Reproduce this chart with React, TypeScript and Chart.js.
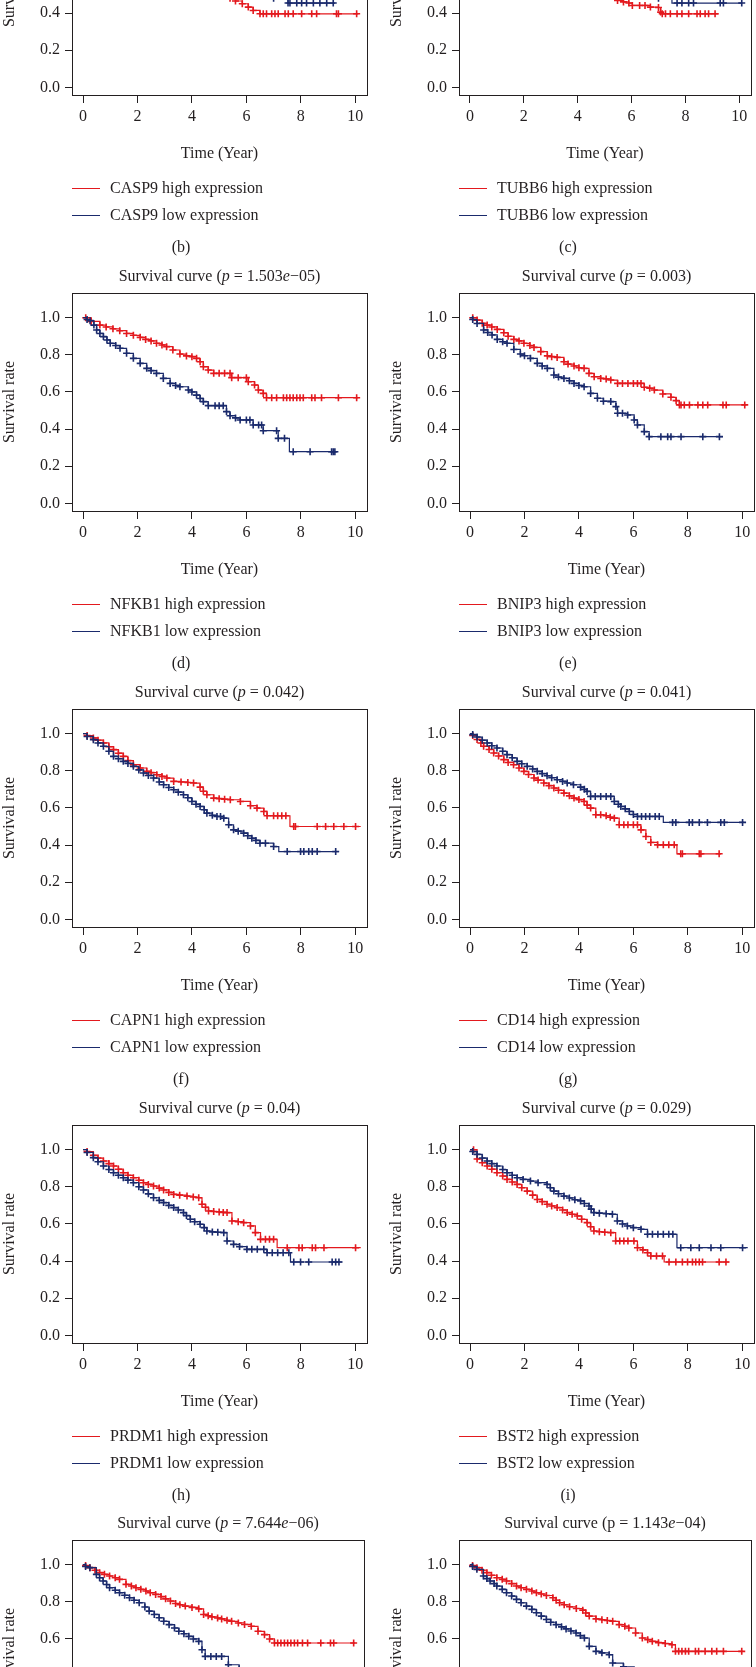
import React, { useEffect, useRef } from 'react';
import { Chart, registerables } from 'chart.js';
Chart.register(...registerables);

type Pt = [number, number, number]; // [time (year), survival, censor mark 0/1]
type Seg = [string, number]; // [text, italic 0/1]

const RED = '#e3191e';
const BLUE = '#1a2a6c';
const INK = '#231f20';
const FONT = '"Liberation Serif", "Times New Roman", serif';

const xTicks = [0, 2, 4, 6, 8, 10];
const yTicks = [0, 0.2, 0.4, 0.6, 0.8, 1.0];

// ---------- (b) CASP9 ----------
const bHigh: Pt[] = [[0,1,0],[0.5,0.95,1],[1.0,0.9,1],[1.5,0.86,1],[2.0,0.82,1],[2.5,0.78,1],[3.0,0.74,1],[3.5,0.69,1],[4.0,0.64,1],[4.5,0.58,1],[5.0,0.52,1],[5.4,0.48,1],[5.6,0.465,1],[5.85,0.45,1],[6.07,0.432,1],[6.25,0.414,1],[6.5,0.396,1],[6.62,0.396,1],[6.74,0.396,1],[6.93,0.396,1],[7.05,0.396,1],[7.17,0.396,1],[7.42,0.396,1],[7.54,0.396,1],[7.72,0.396,1],[8.03,0.396,1],[8.4,0.396,1],[8.58,0.396,1],[9.31,0.396,1],[9.38,0.396,1],[10.05,0.396,1],[10.11,0.396,0]];
const bLow: Pt[] = [[0,1,0],[0.5,0.96,1],[1.0,0.92,1],[1.5,0.88,1],[2.0,0.84,1],[2.5,0.8,1],[3.0,0.77,1],[3.5,0.73,1],[4.0,0.69,1],[4.5,0.64,1],[5.0,0.6,1],[5.5,0.56,1],[6.0,0.53,1],[6.5,0.5,1],[7.0,0.48,1],[7.53,0.454,1],[7.6,0.454,1],[7.85,0.454,1],[8.03,0.454,1],[8.21,0.454,1],[8.46,0.454,1],[8.7,0.454,1],[8.95,0.454,1],[9.19,0.454,1],[9.25,0.454,0]];

// ---------- (c) TUBB6 ----------
const cHigh: Pt[] = [[0,1,0],[0.5,0.95,1],[1.0,0.9,1],[1.5,0.86,1],[2.0,0.82,1],[2.5,0.78,1],[3.0,0.74,1],[3.5,0.69,1],[4.0,0.64,1],[4.5,0.58,1],[5.0,0.52,1],[5.48,0.468,1],[5.7,0.46,1],[5.9,0.454,1],[6.03,0.441,1],[6.3,0.441,1],[6.5,0.441,1],[6.7,0.432,1],[7.0,0.43,1],[7.08,0.405,1],[7.14,0.396,1],[7.26,0.396,1],[7.44,0.396,1],[7.69,0.396,1],[7.87,0.396,1],[8.12,0.396,1],[8.43,0.396,1],[8.55,0.396,1],[8.73,0.396,1],[8.86,0.396,1],[9.1,0.396,1],[9.23,0.396,0]];
const cLow: Pt[] = [[0,1,0],[0.5,0.96,1],[1.0,0.92,1],[1.5,0.88,1],[2.0,0.84,1],[2.5,0.8,1],[3.0,0.77,1],[3.5,0.73,1],[4.0,0.69,1],[4.5,0.64,1],[5.0,0.6,1],[5.5,0.56,1],[6.0,0.53,1],[6.5,0.5,1],[7.0,0.48,1],[7.5,0.454,0],[7.69,0.454,1],[7.87,0.454,1],[8.12,0.454,1],[8.3,0.454,1],[9.29,0.454,1],[9.41,0.454,1],[10.09,0.454,1]];

// ---------- (d) NFKB1 ----------
const dHigh: Pt[] = [[0,1,0],[0.1,1,1],[0.3,0.98,1],[0.62,0.96,1],[0.85,0.95,1],[1.1,0.94,1],[1.35,0.93,1],[1.6,0.915,1],[1.85,0.905,1],[2.1,0.894,1],[2.3,0.883,1],[2.5,0.875,1],[2.7,0.862,1],[2.9,0.853,1],[3.07,0.844,1],[3.3,0.826,1],[3.56,0.804,1],[3.8,0.794,1],[4.0,0.79,1],[4.17,0.781,1],[4.3,0.763,1],[4.42,0.736,1],[4.6,0.718,1],[4.8,0.7,1],[5.0,0.7,1],[5.2,0.7,1],[5.4,0.7,1],[5.46,0.677,1],[5.7,0.677,1],[6.0,0.677,1],[6.07,0.655,1],[6.3,0.637,1],[6.44,0.61,1],[6.62,0.592,1],[6.74,0.569,1],[6.93,0.569,1],[7.11,0.569,1],[7.36,0.569,1],[7.48,0.569,1],[7.6,0.569,1],[7.72,0.569,1],[7.85,0.569,1],[7.97,0.569,1],[8.09,0.569,1],[8.4,0.569,1],[8.52,0.569,1],[8.76,0.569,1],[9.38,0.569,1],[10.05,0.569,1],[10.11,0.569,0]];
const dLow: Pt[] = [[0,1,0],[0.15,0.99,1],[0.26,0.984,1],[0.4,0.96,1],[0.5,0.934,1],[0.62,0.915,1],[0.75,0.898,1],[0.88,0.88,1],[1.0,0.862,1],[1.2,0.85,1],[1.36,0.835,1],[1.6,0.808,1],[1.85,0.781,1],[2.1,0.754,1],[2.34,0.727,1],[2.5,0.715,1],[2.7,0.7,1],[2.95,0.673,1],[3.2,0.646,1],[3.4,0.635,1],[3.56,0.628,1],[3.87,0.61,1],[4.0,0.6,1],[4.17,0.583,1],[4.3,0.565,1],[4.42,0.548,1],[4.6,0.526,1],[4.85,0.526,1],[5.0,0.526,1],[5.15,0.526,1],[5.27,0.494,1],[5.4,0.472,1],[5.6,0.46,1],[5.77,0.449,1],[6.0,0.449,1],[6.13,0.449,1],[6.25,0.422,1],[6.45,0.422,1],[6.56,0.422,1],[6.62,0.391,1],[7.11,0.391,1],[7.17,0.35,1],[7.4,0.35,1],[7.54,0.35,0],[7.58,0.278,0],[7.72,0.278,1],[8.34,0.278,1],[9.13,0.278,1],[9.19,0.278,1],[9.25,0.278,1],[9.34,0.278,0]];

// ---------- (e) BNIP3 ----------
const eHigh: Pt[] = [[0,1,0],[0.1,1,1],[0.26,0.987,1],[0.45,0.97,1],[0.63,0.96,1],[0.8,0.95,1],[1.0,0.937,1],[1.24,0.919,1],[1.4,0.9,1],[1.61,0.883,1],[1.8,0.875,1],[1.98,0.862,1],[2.2,0.85,1],[2.35,0.84,1],[2.6,0.817,1],[2.84,0.794,1],[3.0,0.79,1],[3.2,0.786,1],[3.45,0.763,1],[3.6,0.75,1],[3.82,0.74,1],[4.0,0.73,1],[4.19,0.727,1],[4.37,0.7,1],[4.56,0.682,1],[4.8,0.673,1],[5.0,0.67,1],[5.17,0.664,1],[5.42,0.646,1],[5.6,0.646,1],[5.8,0.646,1],[6.0,0.646,1],[6.15,0.646,1],[6.28,0.646,1],[6.4,0.625,1],[6.6,0.62,1],[6.77,0.61,1],[7.08,0.589,1],[7.38,0.571,1],[7.57,0.553,1],[7.69,0.53,1],[7.75,0.53,1],[7.87,0.53,1],[8.06,0.53,1],[8.37,0.53,1],[8.55,0.53,1],[8.73,0.53,1],[9.29,0.53,1],[9.41,0.53,1],[10.09,0.53,1],[10.15,0.53,0]];
const eLow: Pt[] = [[0,1,0],[0.1,0.99,1],[0.26,0.969,1],[0.5,0.934,1],[0.65,0.92,1],[0.81,0.907,1],[1.0,0.883,1],[1.2,0.87,1],[1.36,0.862,1],[1.61,0.829,1],[1.85,0.804,1],[2.0,0.795,1],[2.22,0.781,1],[2.47,0.754,1],[2.65,0.74,1],[2.84,0.727,1],[3.08,0.691,1],[3.25,0.68,1],[3.45,0.673,1],[3.65,0.66,1],[3.82,0.646,1],[4.0,0.635,1],[4.19,0.628,1],[4.43,0.592,1],[4.68,0.566,1],[4.9,0.55,1],[5.17,0.548,1],[5.36,0.521,1],[5.42,0.485,1],[5.6,0.485,1],[5.79,0.476,1],[6.03,0.449,1],[6.15,0.422,1],[6.4,0.386,1],[6.58,0.359,1],[7.01,0.359,1],[7.26,0.359,1],[7.38,0.359,1],[7.75,0.359,1],[8.55,0.359,1],[9.16,0.359,1],[9.29,0.359,0]];

// ---------- (f) CAPN1 ----------
const fHigh: Pt[] = [[0,1,0],[0.15,0.99,1],[0.38,0.977,1],[0.55,0.965,1],[0.75,0.95,1],[0.95,0.93,1],[1.12,0.914,1],[1.3,0.895,1],[1.48,0.878,1],[1.65,0.855,1],[1.85,0.833,1],[2.1,0.815,1],[2.34,0.797,1],[2.5,0.79,1],[2.71,0.779,1],[2.9,0.77,1],[3.08,0.761,1],[3.33,0.743,1],[3.6,0.74,1],[3.85,0.737,1],[4.06,0.734,1],[4.3,0.712,1],[4.42,0.69,1],[4.55,0.671,1],[4.8,0.653,1],[5.0,0.65,1],[5.2,0.647,1],[5.41,0.644,1],[5.78,0.635,1],[6.15,0.612,1],[6.39,0.599,1],[6.64,0.581,1],[6.76,0.558,1],[7.0,0.558,1],[7.15,0.558,1],[7.3,0.558,1],[7.45,0.558,1],[7.6,0.5,0],[7.74,0.5,1],[7.8,0.5,1],[8.6,0.5,1],[8.91,0.5,1],[9.21,0.5,1],[9.58,0.5,1],[10.01,0.5,1],[10.2,0.5,0]];
const fLow: Pt[] = [[0,1,0],[0.15,0.985,1],[0.38,0.968,1],[0.55,0.95,1],[0.75,0.932,1],[0.95,0.905,1],[1.12,0.878,1],[1.3,0.865,1],[1.48,0.851,1],[1.65,0.84,1],[1.85,0.824,1],[2.05,0.805,1],[2.22,0.788,1],[2.4,0.775,1],[2.59,0.761,1],[2.8,0.74,1],[2.96,0.725,1],[3.15,0.71,1],[3.33,0.698,1],[3.5,0.685,1],[3.69,0.671,1],[3.85,0.655,1],[4.0,0.635,1],[4.15,0.62,1],[4.3,0.608,1],[4.45,0.59,1],[4.55,0.572,1],[4.75,0.56,1],[4.92,0.554,1],[5.05,0.554,1],[5.17,0.545,1],[5.35,0.509,1],[5.53,0.482,1],[5.7,0.475,1],[5.9,0.464,1],[6.05,0.45,1],[6.2,0.437,1],[6.35,0.425,1],[6.5,0.41,1],[6.7,0.41,1],[7.0,0.392,1],[7.19,0.365,0],[7.5,0.365,1],[7.99,0.365,1],[8.11,0.365,1],[8.29,0.365,1],[8.42,0.365,1],[8.6,0.365,1],[9.28,0.365,1],[9.4,0.365,0]];

// ---------- (g) CD14 ----------
const gHigh: Pt[] = [[0,1,0],[0.1,0.99,1],[0.26,0.969,1],[0.4,0.95,1],[0.5,0.932,1],[0.7,0.915,1],[0.87,0.896,1],[1.05,0.88,1],[1.24,0.86,1],[1.4,0.845,1],[1.6,0.833,1],[1.8,0.815,1],[1.98,0.797,1],[2.15,0.78,1],[2.35,0.761,1],[2.5,0.75,1],[2.71,0.734,1],[2.9,0.72,1],[3.08,0.707,1],[3.25,0.695,1],[3.45,0.68,1],[3.65,0.665,1],[3.82,0.653,1],[4.0,0.645,1],[4.19,0.635,1],[4.3,0.615,1],[4.43,0.599,1],[4.62,0.563,1],[4.8,0.563,1],[5.0,0.558,1],[5.15,0.55,1],[5.3,0.545,1],[5.48,0.509,1],[5.65,0.509,1],[5.8,0.509,1],[6.0,0.509,1],[6.15,0.509,1],[6.28,0.482,1],[6.46,0.446,1],[6.64,0.414,1],[6.89,0.401,1],[7.1,0.401,1],[7.3,0.401,1],[7.5,0.401,1],[7.6,0.353,0],[7.74,0.353,1],[7.8,0.353,1],[8.42,0.353,1],[8.48,0.353,1],[9.15,0.353,1],[9.22,0.353,0]];
const gLow: Pt[] = [[0,1,0],[0.1,0.995,1],[0.26,0.982,1],[0.45,0.965,1],[0.63,0.95,1],[0.8,0.935,1],[0.99,0.923,1],[1.2,0.905,1],[1.36,0.887,1],[1.55,0.87,1],[1.73,0.851,1],[1.9,0.838,1],[2.1,0.824,1],[2.3,0.81,1],[2.47,0.797,1],[2.65,0.785,1],[2.83,0.773,1],[3.0,0.763,1],[3.2,0.752,1],[3.4,0.743,1],[3.57,0.734,1],[3.8,0.725,1],[4.06,0.712,1],[4.2,0.7,1],[4.3,0.689,1],[4.43,0.662,1],[4.6,0.662,1],[4.8,0.662,1],[5.0,0.662,1],[5.17,0.662,1],[5.3,0.635,1],[5.45,0.62,1],[5.54,0.608,1],[5.7,0.595,1],[5.85,0.581,1],[6.0,0.565,1],[6.15,0.554,1],[6.3,0.554,1],[6.45,0.554,1],[6.6,0.554,1],[6.8,0.554,1],[6.95,0.554,1],[7.1,0.522,0],[7.44,0.522,1],[7.56,0.522,1],[8.05,0.522,1],[8.17,0.522,1],[8.42,0.522,1],[8.72,0.522,1],[9.21,0.522,1],[9.34,0.522,1],[10.01,0.522,1],[10.07,0.522,0]];

// ---------- (h) PRDM1 ----------
const hHigh: Pt[] = [[0,1,0],[0.15,0.99,1],[0.38,0.97,1],[0.55,0.955,1],[0.75,0.939,1],[0.95,0.925,1],[1.12,0.912,1],[1.3,0.895,1],[1.48,0.876,1],[1.65,0.862,1],[1.85,0.849,1],[2.05,0.835,1],[2.22,0.822,1],[2.4,0.813,1],[2.59,0.804,1],[2.8,0.793,1],[2.96,0.783,1],[3.15,0.77,1],[3.33,0.759,1],[3.55,0.755,1],[3.82,0.75,1],[4.05,0.745,1],[4.25,0.741,1],[4.37,0.706,1],[4.5,0.69,1],[4.61,0.67,1],[4.8,0.667,1],[5.0,0.664,1],[5.15,0.662,1],[5.29,0.661,1],[5.47,0.616,1],[5.7,0.612,1],[5.9,0.607,1],[6.15,0.589,1],[6.33,0.553,1],[6.52,0.517,1],[6.7,0.517,1],[6.85,0.517,1],[7.0,0.517,1],[7.13,0.472,0],[7.5,0.472,1],[7.93,0.472,1],[8.05,0.472,1],[8.42,0.472,1],[8.54,0.472,1],[8.85,0.472,1],[10.01,0.472,1],[10.2,0.472,0]];
const hLow: Pt[] = [[0,1,0],[0.15,0.985,1],[0.38,0.957,1],[0.55,0.935,1],[0.75,0.912,1],[0.95,0.893,1],[1.12,0.876,1],[1.3,0.862,1],[1.48,0.849,1],[1.65,0.836,1],[1.85,0.822,1],[2.05,0.8,1],[2.22,0.783,1],[2.4,0.762,1],[2.59,0.741,1],[2.8,0.727,1],[2.96,0.715,1],[3.15,0.7,1],[3.33,0.688,1],[3.5,0.675,1],[3.69,0.661,1],[3.8,0.645,1],[3.94,0.625,1],[4.1,0.612,1],[4.3,0.598,1],[4.45,0.58,1],[4.55,0.562,1],[4.75,0.557,1],[4.95,0.555,1],[5.17,0.553,1],[5.29,0.508,1],[5.53,0.49,1],[5.75,0.478,1],[6.02,0.463,1],[6.2,0.463,1],[6.4,0.463,1],[6.64,0.463,1],[6.76,0.445,1],[6.95,0.445,1],[7.15,0.445,1],[7.35,0.445,1],[7.56,0.445,1],[7.62,0.395,0],[7.74,0.395,1],[7.99,0.395,1],[8.29,0.395,1],[9.15,0.395,1],[9.28,0.395,1],[9.4,0.395,1],[9.52,0.395,0]];

// ---------- (i) BST2 ----------
const iHigh: Pt[] = [[0,1,0],[0.13,1,1],[0.26,0.95,1],[0.45,0.93,1],[0.63,0.912,1],[0.8,0.895,1],[0.99,0.876,1],[1.2,0.858,1],[1.36,0.84,1],[1.55,0.826,1],[1.73,0.813,1],[1.9,0.795,1],[2.1,0.777,1],[2.3,0.755,1],[2.47,0.732,1],[2.65,0.72,1],[2.83,0.706,1],[3.0,0.697,1],[3.2,0.688,1],[3.4,0.675,1],[3.57,0.661,1],[3.75,0.652,1],[3.94,0.643,1],[4.1,0.625,1],[4.3,0.607,1],[4.43,0.585,1],[4.55,0.562,1],[4.75,0.558,1],[4.95,0.555,1],[5.17,0.553,1],[5.35,0.508,1],[5.5,0.508,1],[5.65,0.508,1],[5.8,0.508,1],[6.02,0.508,1],[6.15,0.472,1],[6.35,0.46,1],[6.52,0.445,1],[6.64,0.427,1],[6.85,0.427,1],[7.07,0.427,1],[7.13,0.395,0],[7.31,0.395,1],[7.56,0.395,1],[7.8,0.395,1],[7.99,0.395,1],[8.17,0.395,1],[8.29,0.395,1],[8.42,0.395,1],[8.54,0.395,1],[9.15,0.395,1],[9.4,0.395,1],[9.52,0.395,0]];
const iLow: Pt[] = [[0,1,0],[0.1,0.99,1],[0.26,0.975,1],[0.45,0.955,1],[0.63,0.939,1],[0.8,0.925,1],[0.99,0.912,1],[1.2,0.893,1],[1.36,0.876,1],[1.55,0.862,1],[1.73,0.849,1],[1.95,0.84,1],[2.22,0.831,1],[2.5,0.822,1],[2.83,0.813,1],[2.95,0.795,1],[3.08,0.777,1],[3.25,0.763,1],[3.45,0.75,1],[3.65,0.74,1],[3.85,0.73,1],[4.06,0.724,1],[4.2,0.71,1],[4.37,0.697,1],[4.45,0.68,1],[4.55,0.661,1],[4.75,0.658,1],[5.0,0.655,1],[5.23,0.652,1],[5.41,0.616,1],[5.6,0.6,1],[5.78,0.589,1],[6.0,0.58,1],[6.28,0.571,1],[6.52,0.544,1],[6.7,0.544,1],[6.9,0.544,1],[7.1,0.544,1],[7.3,0.544,1],[7.45,0.544,1],[7.6,0.472,0],[7.74,0.472,1],[8.11,0.472,1],[8.42,0.472,1],[8.85,0.472,1],[9.21,0.472,1],[10.01,0.472,1],[10.2,0.472,0]];

// ---------- (j) ----------
const jHigh: Pt[] = [[0,1,0],[0.1,0.995,1],[0.26,0.984,1],[0.45,0.97,1],[0.62,0.957,1],[0.8,0.948,1],[0.99,0.939,1],[1.2,0.93,1],[1.36,0.921,1],[1.6,0.894,1],[1.8,0.885,1],[1.97,0.876,1],[2.15,0.867,1],[2.34,0.858,1],[2.5,0.849,1],[2.7,0.84,1],[2.9,0.828,1],[3.07,0.816,1],[3.25,0.804,1],[3.44,0.791,1],[3.6,0.784,1],[3.8,0.777,1],[4.05,0.77,1],[4.3,0.762,1],[4.48,0.732,1],[4.65,0.725,1],[4.79,0.719,1],[5.0,0.713,1],[5.15,0.708,1],[5.35,0.7,1],[5.52,0.695,1],[5.77,0.686,1],[6.0,0.678,1],[6.25,0.668,1],[6.5,0.641,1],[6.74,0.623,1],[6.93,0.6,1],[7.11,0.578,1],[7.23,0.578,1],[7.35,0.578,1],[7.48,0.578,1],[7.6,0.578,1],[7.72,0.578,1],[7.85,0.578,1],[7.97,0.578,1],[8.15,0.578,1],[8.34,0.578,1],[8.83,0.578,1],[9.19,0.578,1],[9.31,0.578,1],[10.05,0.578,1],[10.11,0.578,0]];
const jLow: Pt[] = [[0,1,0],[0.1,0.99,1],[0.26,0.984,1],[0.5,0.948,1],[0.62,0.93,1],[0.75,0.912,1],[0.88,0.893,1],[0.99,0.876,1],[1.2,0.862,1],[1.36,0.849,1],[1.55,0.835,1],[1.73,0.822,1],[1.9,0.808,1],[2.09,0.795,1],[2.3,0.772,1],[2.46,0.75,1],[2.65,0.732,1],[2.83,0.714,1],[3.0,0.695,1],[3.2,0.677,1],[3.4,0.659,1],[3.56,0.641,1],[3.75,0.628,1],[3.93,0.614,1],[4.1,0.6,1],[4.3,0.587,1],[4.42,0.542,1],[4.54,0.506,1],[4.75,0.506,1],[4.95,0.506,1],[5.15,0.506,1],[5.4,0.461,1],[5.8,0.44,1],[6.2,0.42,1],[6.6,0.39,1],[7.0,0.36,1],[7.4,0.33,1],[8.0,0.33,1],[8.6,0.33,1]];

// ---------- (k) ----------
const kHigh: Pt[] = [[0,1,0],[0.1,0.995,1],[0.26,0.984,1],[0.45,0.97,1],[0.63,0.957,1],[0.8,0.943,1],[1.0,0.93,1],[1.2,0.921,1],[1.36,0.912,1],[1.55,0.898,1],[1.73,0.885,1],[1.9,0.876,1],[2.1,0.867,1],[2.3,0.858,1],[2.47,0.849,1],[2.65,0.842,1],[2.84,0.834,1],[3.08,0.822,1],[3.2,0.808,1],[3.33,0.795,1],[3.5,0.784,1],[3.7,0.773,1],[3.95,0.764,1],[4.19,0.755,1],[4.3,0.74,1],[4.43,0.723,1],[4.68,0.708,1],[4.9,0.703,1],[5.1,0.699,1],[5.3,0.695,1],[5.54,0.677,1],[5.75,0.668,1],[5.9,0.659,1],[6.15,0.632,1],[6.4,0.605,1],[6.6,0.596,1],[6.77,0.587,1],[7.0,0.58,1],[7.25,0.575,1],[7.5,0.569,1],[7.63,0.533,1],[7.75,0.533,1],[7.87,0.533,1],[8.0,0.533,1],[8.12,0.533,1],[8.37,0.533,1],[8.49,0.533,1],[8.73,0.533,1],[8.98,0.533,1],[9.16,0.533,1],[9.41,0.533,1],[10.09,0.533,1],[10.15,0.533,0]];
const kLow: Pt[] = [[0,1,0],[0.1,0.99,1],[0.26,0.975,1],[0.5,0.939,1],[0.63,0.925,1],[0.75,0.912,1],[0.9,0.898,1],[1.0,0.885,1],[1.2,0.867,1],[1.36,0.849,1],[1.55,0.831,1],[1.73,0.813,1],[1.9,0.795,1],[2.1,0.777,1],[2.3,0.759,1],[2.47,0.741,1],[2.65,0.723,1],[2.84,0.705,1],[3.0,0.69,1],[3.2,0.677,1],[3.4,0.665,1],[3.57,0.654,1],[3.75,0.643,1],[3.94,0.632,1],[4.1,0.618,1],[4.25,0.605,1],[4.43,0.56,1],[4.68,0.533,1],[4.9,0.525,1],[5.17,0.515,1],[5.3,0.47,1],[5.7,0.45,1],[6.1,0.42,1],[6.5,0.39,1],[7.0,0.37,1],[7.6,0.35,1],[8.3,0.35,1],[9.0,0.35,1]];

// ---------- titles ----------
const titleB: Seg[] = [['Survival curve', 0]];
const titleC: Seg[] = [['Survival curve', 0]];
const titleD: Seg[] = [['Survival curve (', 0], ['p', 1], [' = 1.503', 0], ['e', 1], ['\u221205)', 0]];
const titleE: Seg[] = [['Survival curve (', 0], ['p', 1], [' = 0.003)', 0]];
const titleF: Seg[] = [['Survival curve (', 0], ['p', 1], [' = 0.042)', 0]];
const titleG: Seg[] = [['Survival curve (', 0], ['p', 1], [' = 0.041)', 0]];
const titleH: Seg[] = [['Survival curve (', 0], ['p', 1], [' = 0.04)', 0]];
const titleI: Seg[] = [['Survival curve (', 0], ['p', 1], [' = 0.029)', 0]];
const titleJ: Seg[] = [['Survival curve (', 0], ['p', 1], [' = 7.644', 0], ['e', 1], ['\u221206)', 0]];
const titleK: Seg[] = [['Survival curve (p = 1.143', 0], ['e', 1], ['\u221204)', 0]];

const rowTops = [-166, 250, 666, 1082, 1497];
const colLefts = [0, 387];

interface Panel { letter: string; gene: string; row: number; col: number; title: Seg[]; high: Pt[]; low: Pt[]; }
const panels: Panel[] = [
  { letter: 'b', gene: 'CASP9', row: 0, col: 0, title: titleB, high: bHigh, low: bLow },
  { letter: 'c', gene: 'TUBB6', row: 0, col: 1, title: titleC, high: cHigh, low: cLow },
  { letter: 'd', gene: 'NFKB1', row: 1, col: 0, title: titleD, high: dHigh, low: dLow },
  { letter: 'e', gene: 'BNIP3', row: 1, col: 1, title: titleE, high: eHigh, low: eLow },
  { letter: 'f', gene: 'CAPN1', row: 2, col: 0, title: titleF, high: fHigh, low: fLow },
  { letter: 'g', gene: 'CD14', row: 2, col: 1, title: titleG, high: gHigh, low: gLow },
  { letter: 'h', gene: 'PRDM1', row: 3, col: 0, title: titleH, high: hHigh, low: hLow },
  { letter: 'i', gene: 'BST2', row: 3, col: 1, title: titleI, high: iHigh, low: iLow },
  { letter: 'j', gene: '', row: 4, col: 0, title: titleJ, high: jHigh, low: jLow },
  { letter: 'k', gene: '', row: 4, col: 1, title: titleK, high: kHigh, low: kLow },
];

const CW = 369;
const CH = 432;
const AREA_BOTTOM = 261;

function makeDecor(p: Panel) {
  return {
    id: 'decor_' + p.letter,
    afterDraw(chart: any) {
      const ctx: CanvasRenderingContext2D = chart.ctx;
      const a = chart.chartArea;
      ctx.save();
      ctx.strokeStyle = INK;
      ctx.lineWidth = 1;
      const L = Math.round(a.left), T = Math.round(a.top);
      ctx.strokeRect(L + 0.5, T + 0.5, Math.round(a.right) - L, Math.round(a.bottom) - T);

      ctx.fillStyle = INK;
      ctx.textBaseline = 'middle';
      const cx = (a.left + a.right) / 2;
      let total = 0;
      for (const [t, it] of p.title) {
        ctx.font = (it ? 'italic ' : '') + '16px ' + FONT;
        total += ctx.measureText(t).width;
      }
      let x = cx - total / 2;
      ctx.textAlign = 'left';
      for (const [t, it] of p.title) {
        ctx.font = (it ? 'italic ' : '') + '16px ' + FONT;
        ctx.fillText(t, x, 26.5);
        x += ctx.measureText(t).width;
      }
      ctx.font = '16px ' + FONT;
      ctx.save();
      ctx.translate(9.5, (a.top + a.bottom) / 2);
      ctx.rotate(-Math.PI / 2);
      ctx.textAlign = 'center';
      ctx.fillText('Survival rate', 0, 0);
      ctx.restore();
      ctx.textAlign = 'center';
      ctx.fillText('Time (Year)', cx, 319.5);
      if (p.gene) {
        const rows: [string, string, number][] = [
          [p.gene + ' high expression', RED, 354.5],
          [p.gene + ' low expression', BLUE, 381.5],
        ];
        for (const [label, col, y] of rows) {
          ctx.strokeStyle = col;
          ctx.beginPath();
          ctx.moveTo(72, y);
          ctx.lineTo(100, y);
          ctx.stroke();
          ctx.textAlign = 'left';
          ctx.fillStyle = INK;
          ctx.fillText(label, 110, y);
        }
        ctx.textAlign = 'center';
        ctx.fillText('(' + p.letter + ')', 181, 413.5);
      }
      ctx.restore();
    },
  };
}

function curve(pts: Pt[], color: string) {
  return {
    data: pts.map((q) => ({ x: q[0], y: q[1] })),
    borderColor: color,
    backgroundColor: color,
    borderWidth: 1.2,
    stepped: true,
    fill: false,
    pointStyle: 'cross',
    pointRadius: (c: any) => (pts[c.dataIndex] && pts[c.dataIndex][2] ? 3.5 : 0),
    pointBorderColor: color,
    pointBorderWidth: 1.6,
    pointHoverRadius: 0,
  };
}

function PanelChart({ p }: { p: Panel }) {
  const ref = useRef<HTMLCanvasElement | null>(null);
  useEffect(() => {
    if (!ref.current) return;
    const tickFont = { family: FONT, size: 16 };
    const chart = new Chart(ref.current, {
      type: 'line',
      data: { datasets: [curve(p.low, BLUE), curve(p.high, RED)] as any },
      options: {
        responsive: false,
        animation: false,
        devicePixelRatio: 1,
        events: [],
        layout: { padding: { top: 43, right: 2, bottom: 0, left: 0 } },
        plugins: { legend: { display: false }, tooltip: { enabled: false }, title: { display: false } },
        scales: {
          x: {
            type: 'linear',
            min: -0.404,
            max: 10.43,
            afterFit: (s: any) => { s.height = CH - AREA_BOTTOM; },
            afterBuildTicks: (s: any) => { s.ticks = xTicks.map((v) => ({ value: v })); },
            grid: { drawOnChartArea: false, drawTicks: true, tickLength: 8, color: INK, lineWidth: 1 },
            border: { display: false },
            ticks: { font: tickFont, color: INK, padding: 4, maxRotation: 0, autoSkip: false, callback: (v: any) => String(v) },
          },
          y: {
            type: 'linear',
            min: -0.0415,
            max: 1.133,
            afterFit: (s: any) => { s.width = 72; },
            afterBuildTicks: (s: any) => { s.ticks = yTicks.map((v) => ({ value: v })); },
            grid: { drawOnChartArea: false, drawTicks: true, tickLength: 7, color: INK, lineWidth: 1 },
            border: { display: false },
            ticks: { font: tickFont, color: INK, padding: 5, autoSkip: false, callback: (v: any) => Number(v).toFixed(1) },
          },
        },
      } as any,
      plugins: [makeDecor(p)],
    });
    return () => chart.destroy();
  }, [p]);
  return (
    <canvas
      ref={ref}
      width={CW}
      height={CH}
      style={{ position: 'absolute', left: colLefts[p.col], top: rowTops[p.row], width: CW, height: CH }}
    />
  );
}

export default function App() {
  return (
    <div style={{ position: 'absolute', left: 0, top: 0, width: 756, height: 1667, overflow: 'hidden', background: '#fff' }}>
      {panels.map((p) => (
        <PanelChart key={p.letter} p={p} />
      ))}
    </div>
  );
}
